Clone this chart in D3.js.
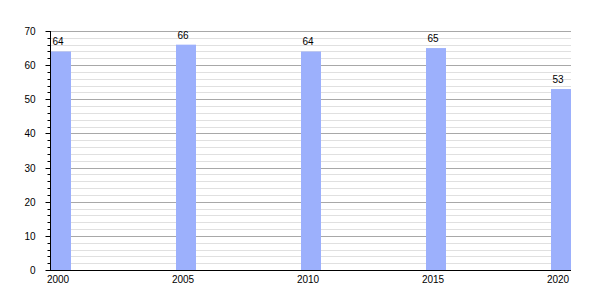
<!DOCTYPE html>
<html><head><meta charset="utf-8">
<script src="https://cdn.jsdelivr.net/npm/d3@7"></script>
<style>body{margin:0;background:#fff}svg{display:block}text{font-family:"Liberation Sans",Arial,sans-serif}</style>
</head><body><svg id="c" width="600" height="300"></svg>
<script>
const years = [2000, 2005, 2010, 2015, 2020];
const values = [64, 66, 64, 65, 53];
const yMajorTicks = [0, 10, 20, 30, 40, 50, 60, 70];

(function () {
const svg = d3.select("#c");
const mLeft = 50, mRight = 571, mTop = 31, mBottom = 270;
const barW = 20;
const x = d3.scaleLinear().domain([2000, 2020]).range([mLeft + 1 + barW / 2, mRight - barW / 2]);
const y = d3.scaleLinear().domain([0, 70]).range([mBottom, mTop]);
const minor = d3.range(0, 71, 2);

// gridlines
svg.append("g").selectAll("line").data(minor.filter(v => v % 10 !== 0)).join("line")
  .attr("x1", mLeft + 1).attr("x2", mRight).attr("y1", d => Math.round(y(d)) + 0.5).attr("y2", d => Math.round(y(d)) + 0.5)
  .attr("stroke", "#e0e0e0").attr("stroke-width", 1);
svg.append("g").selectAll("line").data(yMajorTicks.filter(v => v > 0)).join("line")
  .attr("x1", mLeft + 1).attr("x2", mRight).attr("y1", d => Math.round(y(d)) + 0.5).attr("y2", d => Math.round(y(d)) + 0.5)
  .attr("stroke", "#a8a8a8").attr("stroke-width", 1);

// bars
svg.append("g").selectAll("rect").data(values).join("rect")
  .attr("x", (d, i) => x(years[i]) - barW / 2).attr("width", barW)
  .attr("y", d => y(d)).attr("height", d => y(0) - y(d))
  .attr("fill", "#9cb0fc");

// value labels
svg.append("g").selectAll("text").data(values).join("text")
  .attr("x", (d, i) => x(years[i]) - 3).attr("y", d => y(d) - 6)
  .attr("text-anchor", "middle").attr("font-size", 10).attr("fill", "#000")
  .text(d => d);

// y axis
const ya = svg.append("g").attr("transform", `translate(${mLeft + 0.5},0)`);
ya.append("line").attr("x1", 0).attr("x2", 0).attr("y1", y(70)).attr("y2", y(0) + 0.5).attr("stroke", "#000");
ya.selectAll("line.mn").data(minor.filter(v => v % 10 !== 0)).join("line").attr("class", "mn")
  .attr("x1", -3).attr("x2", 0).attr("y1", d => Math.round(y(d)) + 0.5).attr("y2", d => Math.round(y(d)) + 0.5).attr("stroke", "#000");
ya.selectAll("line.mj").data(yMajorTicks).join("line").attr("class", "mj")
  .attr("x1", -5).attr("x2", 0).attr("y1", d => Math.round(y(d)) + 0.5).attr("y2", d => Math.round(y(d)) + 0.5).attr("stroke", "#000");
ya.selectAll("text").data(yMajorTicks).join("text")
  .attr("x", -15).attr("y", d => y(d) + 4)
  .attr("text-anchor", "end").attr("font-size", 10).text(d => d);

// x axis
svg.append("line").attr("x1", mLeft).attr("x2", mRight).attr("y1", mBottom + 0.5).attr("y2", mBottom + 0.5).attr("stroke", "#000");
svg.append("g").selectAll("text").data(years).join("text")
  .attr("x", d => x(d) - 3).attr("y", mBottom + 13)
  .attr("text-anchor", "middle").attr("font-size", 10).text(d => d);
})();
</script></body></html>
